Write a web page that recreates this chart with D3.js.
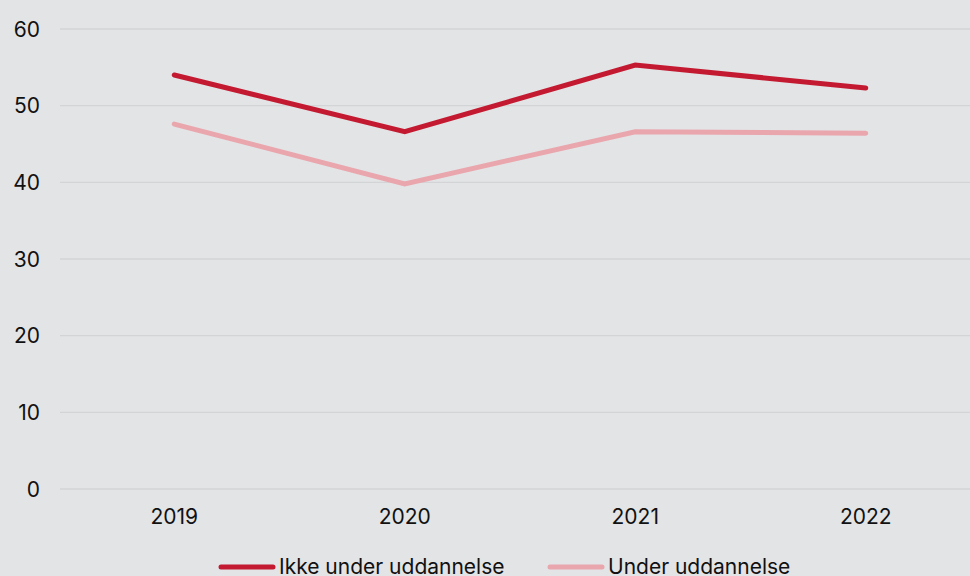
<!DOCTYPE html>
<html><head><meta charset="utf-8">
<script src="https://cdn.jsdelivr.net/npm/d3@7"></script>
<style>html,body{margin:0;padding:0;background:#e3e4e6;}svg{display:block;font-family:Inter,"Noto Sans",sans-serif;}</style>
</head><body>
<svg id="c" width="970" height="576"></svg>
<script>
const years = ["2019","2020","2021","2022"];
const ikke = [54.0, 46.6, 55.3, 52.3];
const under = [47.6, 39.8, 46.6, 46.4];
const seriesNames = ["Ikke under uddannelse","Under uddannelse"];
const yTicks = [0,10,20,30,40,50,60];
const colors = ["#c41a31","#e9a6ad"];

const svg = d3.select("#c");
svg.append("rect").attr("width",970).attr("height",576).attr("fill","#e3e4e6");
const x = d3.scalePoint().domain(years).range([59,981]).padding(0.5);
const y = d3.scaleLinear().domain([0,60]).range([489,29]);

svg.append("g").selectAll("line").data(yTicks).join("line")
  .attr("x1",60).attr("x2",970).attr("y1",d=>y(d)).attr("y2",d=>y(d))
  .attr("stroke","#d3d4d6").attr("stroke-width",1.3);

svg.append("g").selectAll("text").data(yTicks).join("text")
  .attr("x",40).attr("y",d=>y(d)).attr("dy","0.36em").attr("text-anchor","end")
  .attr("font-size",21).attr("fill","#111").text(d=>d);

svg.append("g").selectAll("text").data(years).join("text")
  .attr("x",d=>x(d)).attr("y",524).attr("text-anchor","middle")
  .attr("font-size",21).attr("fill","#111").text(d=>d);

const line = d3.line().x((d,i)=>x(years[i])).y(d=>y(d));
[under, ikke].forEach((s,k)=>{
  const ci = k===0?1:0;
  svg.append("path").attr("d",line(s)).attr("fill","none")
    .attr("stroke",colors[ci]).attr("stroke-width",5)
    .attr("stroke-linecap","round").attr("stroke-linejoin","miter");
});

const leg = [{x:221,tx:279,name:seriesNames[0],c:colors[0]},{x:550,tx:608,name:seriesNames[1],c:colors[1]}];
leg.forEach(l=>{
  svg.append("line").attr("x1",l.x).attr("x2",l.x+52).attr("y1",567).attr("y2",567)
    .attr("stroke",l.c).attr("stroke-width",5).attr("stroke-linecap","round");
  svg.append("text").attr("x",l.tx).attr("y",574)
    .attr("font-size",21).attr("fill","#111").text(l.name);
});
</script>
</body></html>
